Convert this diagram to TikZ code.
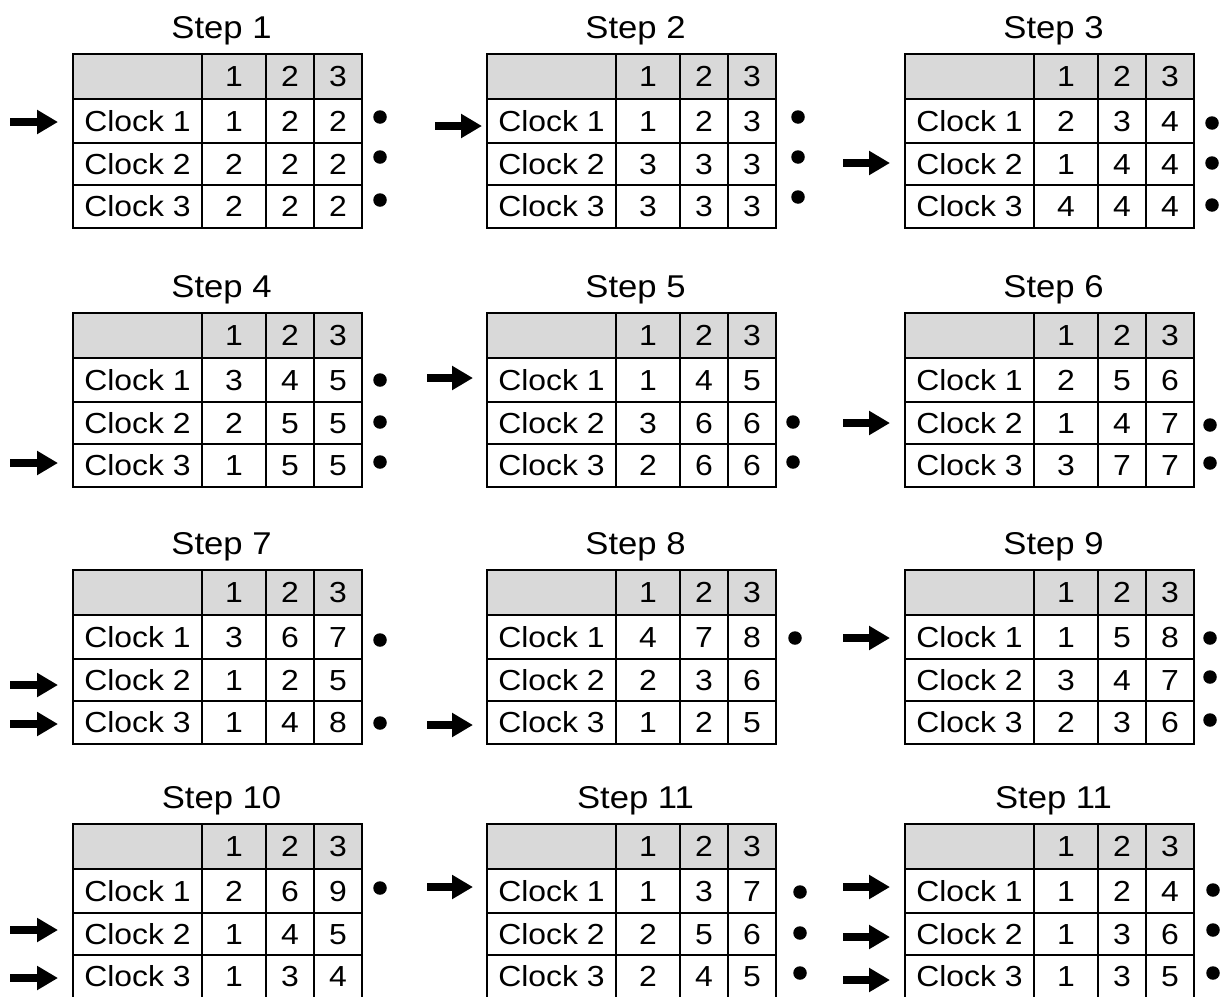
\documentclass[tikz,border=0pt]{standalone}
\usepackage{fontspec}
\setmainfont[FakeStretch=1.1]{Liberation Sans}
\usetikzlibrary{arrows.meta}
\definecolor{hdrgray}{HTML}{D9D9D9}
\tikzset{
  cell/.style={draw=black, line width=2pt, inner sep=0pt, fill=white,
    font=\fontsize{29}{32}\selectfont, text height=20.8pt, text depth=0pt},
  hdr/.style={cell, fill=hdrgray},
  ttl/.style={anchor=base, inner sep=0pt, font=\fontsize{31.5}{34}\selectfont},
  dotn/.style={circle, fill=black, inner sep=0pt, minimum size=13.5pt},
  arr/.style={line width=8pt, -{Triangle[length=21pt,width=23pt]}},
}
\newcommand\ctab[4]{%
  \def\TL{#2}\def\TT{#3}\def\TI{#1}%
  \node[ttl] (#1-title) at (\TL+148.5,\TT-16) {#4};
  \node[hdr,minimum width=129pt,minimum height=45pt] (#1-h0) at (\TL+64.5,\TT+22.5) {};
  \node[hdr,minimum width=64pt,minimum height=45pt] (#1-h1) at (\TL+161,\TT+22.5) {1};
  \node[hdr,minimum width=48pt,minimum height=45pt] (#1-h2) at (\TL+217,\TT+22.5) {2};
  \node[hdr,minimum width=48pt,minimum height=45pt] (#1-h3) at (\TL+265,\TT+22.5) {3};
}
\newcommand\crow[4]{% #1 row, #2 #3 #4 values
  \ifcase#1\or\def\RC{67}\def\RH{44}\or\def\RC{110}\def\RH{42}\or\def\RC{152.5}\def\RH{43}\fi
  \node[cell,minimum width=129pt,minimum height=\RH pt] (\TI-r#1-0) at (\TL+64.5,\TT+\RC) {Clock #1};
  \node[cell,minimum width=64pt,minimum height=\RH pt] (\TI-r#1-1) at (\TL+161,\TT+\RC) {#2};
  \node[cell,minimum width=48pt,minimum height=\RH pt] (\TI-r#1-2) at (\TL+217,\TT+\RC) {#3};
  \node[cell,minimum width=48pt,minimum height=\RH pt] (\TI-r#1-3) at (\TL+265,\TT+\RC) {#4};
}
\newcommand\mdot[3]{\node[dotn] (#1) at (#2,#3) {};}
\newcommand\marrow[4]{%
  \coordinate (#1-s) at (#2,#4);
  \coordinate (#1-e) at (#3,#4);
  \draw[arr] (#1-s) -- (#1-e);}
\begin{document}
\begin{tikzpicture}[x=1pt,y=-1pt]
\useasboundingbox (0,0) rectangle (1222,996);
% Step 1
\ctab{s1}{73}{54}{Step 1}
\crow{1}{1}{2}{2}\crow{2}{2}{2}{2}\crow{3}{2}{2}{2}
\marrow{s1a1}{10}{58}{122}
\mdot{s1d1}{380}{117}\mdot{s1d2}{380}{157}\mdot{s1d3}{380}{200}
% Step 2
\ctab{s2}{487}{54}{Step 2}
\crow{1}{1}{2}{3}\crow{2}{3}{3}{3}\crow{3}{3}{3}{3}
\marrow{s2a1}{435}{482}{126}
\mdot{s2d1}{798}{117}\mdot{s2d2}{798}{157}\mdot{s2d3}{798}{197}
% Step 3
\ctab{s3}{905}{54}{Step 3}
\crow{1}{2}{3}{4}\crow{2}{1}{4}{4}\crow{3}{4}{4}{4}
\marrow{s3a1}{843}{890}{163}
\mdot{s3d1}{1212}{123}\mdot{s3d2}{1212}{163}\mdot{s3d3}{1212}{205}
% Step 4
\ctab{s4}{73}{313}{Step 4}
\crow{1}{3}{4}{5}\crow{2}{2}{5}{5}\crow{3}{1}{5}{5}
\marrow{s4a1}{10}{58}{463}
\mdot{s4d1}{380}{380}\mdot{s4d2}{380}{422}\mdot{s4d3}{380}{462}
% Step 5
\ctab{s5}{487}{313}{Step 5}
\crow{1}{1}{4}{5}\crow{2}{3}{6}{6}\crow{3}{2}{6}{6}
\marrow{s5a1}{427}{473}{378}
\mdot{s5d1}{793}{422}\mdot{s5d2}{793}{462}
% Step 6
\ctab{s6}{905}{313}{Step 6}
\crow{1}{2}{5}{6}\crow{2}{1}{4}{7}\crow{3}{3}{7}{7}
\marrow{s6a1}{843}{890}{423}
\mdot{s6d1}{1210}{425}\mdot{s6d2}{1210}{463}
% Step 7
\ctab{s7}{73}{570}{Step 7}
\crow{1}{3}{6}{7}\crow{2}{1}{2}{5}\crow{3}{1}{4}{8}
\marrow{s7a1}{10}{58}{685}
\marrow{s7a2}{10}{58}{724}
\mdot{s7d1}{380}{640}\mdot{s7d2}{380}{723}
% Step 8
\ctab{s8}{487}{570}{Step 8}
\crow{1}{4}{7}{8}\crow{2}{2}{3}{6}\crow{3}{1}{2}{5}
\marrow{s8a1}{427}{473}{725}
\mdot{s8d1}{795}{638}
% Step 9
\ctab{s9}{905}{570}{Step 9}
\crow{1}{1}{5}{8}\crow{2}{3}{4}{7}\crow{3}{2}{3}{6}
\marrow{s9a1}{843}{890}{638}
\mdot{s9d1}{1210}{638}\mdot{s9d2}{1210}{677}\mdot{s9d3}{1210}{720}
% Step 10
\ctab{s10}{73}{824}{Step 10}
\crow{1}{2}{6}{9}\crow{2}{1}{4}{5}\crow{3}{1}{3}{4}
\marrow{s10a1}{10}{58}{930}
\marrow{s10a2}{10}{58}{978}
\mdot{s10d1}{380}{888}
% Step 11
\ctab{s11}{487}{824}{Step 11}
\crow{1}{1}{3}{7}\crow{2}{2}{5}{6}\crow{3}{2}{4}{5}
\marrow{s11a1}{427}{473}{887}
\mdot{s11d1}{800}{892}\mdot{s11d2}{800}{933}\mdot{s11d3}{800}{973}
% Step 11 (second)
\ctab{s12}{905}{824}{Step 11}
\crow{1}{1}{2}{4}\crow{2}{1}{3}{6}\crow{3}{1}{3}{5}
\marrow{s12a1}{843}{890}{887}
\marrow{s12a2}{843}{890}{937}
\marrow{s12a3}{843}{890}{980}
\mdot{s12d1}{1213}{890}\mdot{s12d2}{1213}{930}\mdot{s12d3}{1213}{973}
\end{tikzpicture}
\end{document}
